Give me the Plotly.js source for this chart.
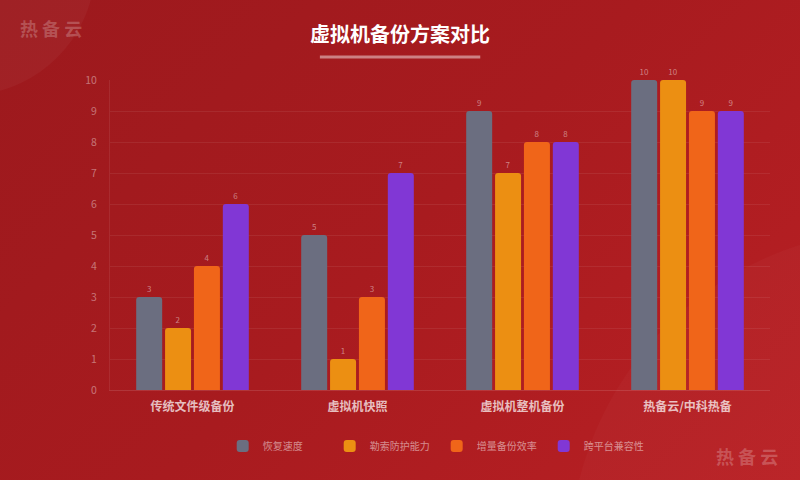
<!DOCTYPE html>
<html>
<head>
<meta charset="utf-8">
<script src="https://cdn.plot.ly/plotly-3.0.1.min.js"></script>
<style>
  html, body { margin: 0; padding: 0; }
  body {
    width: 800px; height: 480px; overflow: hidden;
    background:
      radial-gradient(circle at -35px -35px, rgba(255,255,255,0.035) 0, rgba(255,255,255,0.035) 130px, rgba(255,255,255,0) 131px),
      radial-gradient(circle at 900px 560px, rgba(255,255,255,0.025) 0, rgba(255,255,255,0.025) 330px, rgba(255,255,255,0) 331px),
      linear-gradient(135deg, #9c191d 0%, #a81b1f 50%, #b92024 100%);
  }
  #chart { width: 800px; height: 480px; }
</style>
</head>
<body>
<div id="chart"></div>
<script>
var categories = ['传统文件级备份', '虚拟机快照', '虚拟机整机备份', '热备云/中科热备'];
var seriesNames = ['恢复速度', '勒索防护能力', '增量备份效率', '跨平台兼容性'];
var recoverySpeed = [3, 5, 9, 10];
var ransomProtection = [2, 1, 7, 10];
var incrementalEfficiency = [4, 3, 8, 9];
var crossPlatform = [6, 7, 8, 9];
var yTicks = [0, 1, 2, 3, 4, 5, 6, 7, 8, 9, 10];

var colors = ['#6b6e80', '#ec8f12', '#f06519', '#8137d5'];
var values = [recoverySpeed, ransomProtection, incrementalEfficiency, crossPlatform];

var data = [];
for (var i = 0; i < seriesNames.length; i++) {
    data.push({
        x: categories,
        y: values[i],
        name: seriesNames[i],
        type: 'bar',
        text: values[i],
        textposition: 'outside',
        cliponaxis: false,
        textfont: {size: 8, color: 'rgba(255,255,255,0.45)'},
        marker: {color: colors[i], cornerradius: 3},
        hoverinfo: 'none'
    });
}

var fontFam = '"Noto Sans CJK SC", "Noto Sans", sans-serif';

var layout = {
    width: 800,
    height: 480,
    margin: {l: 110, r: 30, t: 80, b: 90},
    paper_bgcolor: 'rgba(0,0,0,0)',
    plot_bgcolor: 'rgba(0,0,0,0)',
    font: {family: fontFam, color: 'rgba(255,255,255,0.45)'},
    title: {
        text: '<b>虚拟机备份方案对比</b>',
        font: {size: 20, color: '#ffffff', family: fontFam},
        x: 0.5, xanchor: 'center', y: 0.927, yanchor: 'middle'
    },
    barmode: 'group',
    bargap: 0.3,
    bargroupgap: 0.1,
    showlegend: true,
    legend: {
        orientation: 'h',
        x: 0.495, xanchor: 'center',
        y: -0.181, yanchor: 'middle',
        entrywidth: 62,
        itemwidth: 30,
        font: {size: 10, color: 'rgba(255,255,255,0.5)'},
        itemclick: false
    },
    xaxis: {
        tickfont: {size: 12, color: 'rgba(255,255,255,0.72)'},
        tickvals: categories,
        ticktext: categories.map(function (c) { return '<b>' + c + '</b>'; }),
        showline: true,
        linecolor: 'rgba(255,255,255,0.12)',
        linewidth: 1,
        ticks: '',
        ticklabelstandoff: 6
    },
    yaxis: {
        range: [0, 10],
        tickvals: yTicks,
        tickfont: {size: 10.5, color: 'rgba(255,255,255,0.4)'},
        showgrid: true,
        gridcolor: 'rgba(255,255,255,0.07)',
        showline: true,
        linecolor: 'rgba(255,255,255,0.08)',
        zeroline: false,
        ticks: '',
        ticklabelstandoff: 10
    },
    shapes: [{
        type: 'line', xref: 'paper', yref: 'paper',
        x0: 0.318, x1: 0.561, y0: 1.074, y1: 1.074,
        line: {color: 'rgba(255,255,255,0.45)', width: 3}
    }],
    annotations: [{
        text: '<b>热 备 云</b>',
        xref: 'paper', yref: 'paper',
        x: -0.139, y: 1.168, xanchor: 'left', yanchor: 'middle',
        showarrow: false,
        font: {size: 18, color: 'rgba(255,255,255,0.22)', family: fontFam}
    }, {
        text: '<b>热 备 云</b>',
        xref: 'paper', yref: 'paper',
        x: 1.015, y: -0.213, xanchor: 'right', yanchor: 'middle',
        showarrow: false,
        font: {size: 18, color: 'rgba(255,255,255,0.22)', family: fontFam}
    }]
};

Plotly.newPlot('chart', data, layout, {displayModeBar: false, staticPlot: true});
</script>
</body>
</html>
